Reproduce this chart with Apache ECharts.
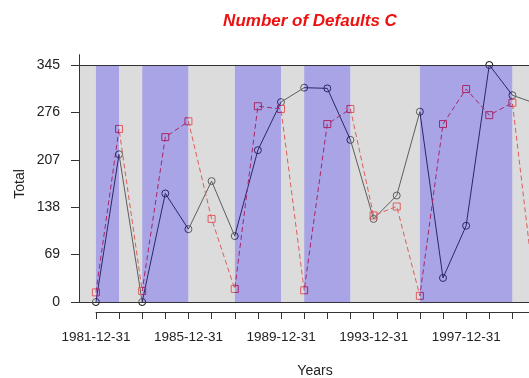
<!DOCTYPE html>
<html>
<head>
<meta charset="utf-8">
<script src="https://cdn.jsdelivr.net/npm/echarts@6/dist/echarts.min.js"></script>
<style>
  html, body { margin: 0; padding: 0; background: #ffffff; }
  #chart { width: 529px; height: 378px; }
</style>
</head>
<body>
<div id="chart"></div>
<script>
// Yearly observations (year-end dates)
const years = [1981, 1982, 1983, 1984, 1985, 1986, 1987, 1988, 1989, 1990,
               1991, 1992, 1993, 1994, 1995, 1996, 1997, 1998, 1999, 2000];
// Solid black series (circle markers)
const solidValues = [0, 215, 0, 158, 106, 176, 96, 221, 291, 312,
                     311, 236, 121, 155, 277, 35, 111, 345, 301, 289];
// Dashed red series (square markers)
const dashedValues = [14, 252, 16, 240, 263, 121, 19, 285, 281, 17,
                      259, 281, 126, 139, 9, 259, 310, 272, 290, 5];

// Shaded periods behind the lines
const blueBands = [[1981, 1982], [1983, 1985], [1987, 1989], [1990, 1992], [1995, 1999]];
const greyBands = [[1980.27, 1981], [1982, 1983], [1985, 1987], [1989, 1990], [1992, 1995], [1999, 2001]];

// Axis ticks and labels
const yTicks = [0, 69, 138, 207, 276, 345];
const labelYears = [1981, 1985, 1989, 1993, 1997];
const xTickLabels = ['1981-12-31', '1985-12-31', '1989-12-31', '1993-12-31', '1997-12-31'];

const FONT = '"Liberation Sans", Arial, Helvetica, sans-serif';
const xMin = 1980.27, xMax = 2001;
const yTop = yTicks[yTicks.length - 1];
const PX_PER_YEAR = 23.14;

const toPairs = vals => years.map((y, i) => [y, vals[i]]);

const bandAreas = []
  .concat(blueBands.map(b => [
    { xAxis: b[0], yAxis: 0, itemStyle: { color: 'rgba(81,73,205,0.5)' } },
    { xAxis: b[1], yAxis: yTop }
  ]))
  .concat(greyBands.map(b => [
    { xAxis: b[0], yAxis: 0, itemStyle: { color: 'rgba(185,185,185,0.5)' } },
    { xAxis: b[1], yAxis: yTop }
  ]));

const chart = echarts.init(document.getElementById('chart'), null, { renderer: 'canvas' });

chart.setOption({
  animation: false,
  backgroundColor: '#ffffff',
  title: {
    text: 'Number of Defaults C',
    left: 310,
    top: 13,
    padding: 0,
    textAlign: 'center',
    textStyle: {
      color: '#ee1111',
      fontSize: 17,
      fontWeight: 'bold',
      fontStyle: 'italic',
      fontFamily: FONT
    }
  },
  grid: [
    // plot region runs past the right edge of the canvas
    { left: 79, width: (xMax - xMin) * PX_PER_YEAR, top: 54.7, bottom: 76,
      containLabel: false, outerBoundsMode: 'none' },
    { left: 96, width: (xMax - 1981) * PX_PER_YEAR, top: 302, height: 10,
      containLabel: false, outerBoundsMode: 'none' }
  ],
  xAxis: [
    { gridIndex: 0, type: 'value', min: xMin, max: xMax, show: false },
    {
      gridIndex: 1, type: 'value', min: 1981, max: 2001, interval: 1,
      position: 'bottom',
      axisLine: { show: true, lineStyle: { color: '#333', width: 1 } },
      axisTick: { show: true, inside: false, length: 7, customValues: years,
                  lineStyle: { color: '#333', width: 1 } },
      axisLabel: {
        customValues: labelYears,
        margin: 18,
        fontSize: 13.5,
        color: '#222',
        fontFamily: FONT,
        formatter: v => xTickLabels[labelYears.indexOf(v)] || ''
      },
      splitLine: { show: false }
    }
  ],
  yAxis: [
    {
      gridIndex: 0, type: 'value', min: 0, max: 360, interval: 69,
      z: 10,
      axisLine: { show: true, lineStyle: { color: '#333', width: 1 } },
      axisTick: { show: true, inside: false, length: 8, customValues: yTicks,
                  lineStyle: { color: '#333', width: 1 } },
      axisLabel: { customValues: yTicks, margin: 19, fontSize: 14, color: '#222', fontFamily: FONT },
      splitLine: { show: false }
    },
    { gridIndex: 1, type: 'value', min: 0, max: 1, show: false }
  ],
  graphic: [
    {
      type: 'text', x: 20, y: 184, rotation: Math.PI / 2,
      style: { text: 'Total', fill: '#222', font: '14px ' + FONT, align: 'center', verticalAlign: 'middle' }
    },
    {
      type: 'text', x: 315, y: 371,
      style: { text: 'Years', fill: '#222', font: '14px ' + FONT, align: 'center', verticalAlign: 'middle' }
    }
  ],
  series: [
    {
      type: 'line',
      xAxisIndex: 0, yAxisIndex: 0,
      data: toPairs(solidValues),
      z: 2,
      symbol: 'circle',
      symbolSize: 7,
      lineStyle: { color: '#000000', width: 1 },
      itemStyle: { color: 'rgba(0,0,0,0)', borderColor: '#000000', borderWidth: 1 },
      markArea: { silent: true, z: 3, data: bandAreas },
      markLine: {
        silent: true, z: 6, symbol: 'none',
        label: { show: false },
        lineStyle: { color: '#333', type: 'solid', width: 1 },
        data: [{ yAxis: 0 }, { yAxis: yTop }]
      }
    },
    {
      type: 'line',
      xAxisIndex: 0, yAxisIndex: 0,
      data: toPairs(dashedValues),
      z: 2,
      symbol: 'rect',
      symbolSize: 7,
      lineStyle: { color: '#ff0000', width: 1, type: [5, 3] },
      itemStyle: { color: 'rgba(0,0,0,0)', borderColor: '#ff0000', borderWidth: 1 }
    },
    { type: 'line', xAxisIndex: 1, yAxisIndex: 1, data: [] }
  ]
});
</script>
</body>
</html>
